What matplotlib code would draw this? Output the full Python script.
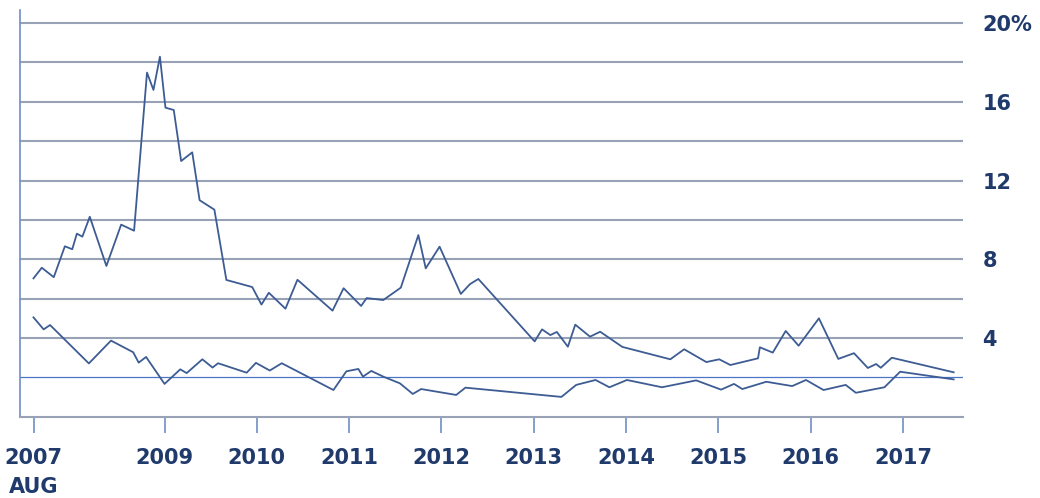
"""Two rate series, Aug 2007 - mid 2017, percent axis on the right."""

import matplotlib

matplotlib.use("Agg")

import matplotlib.pyplot as plt

# upper series (decimal year, percent)
upper_years = [
    2007.58, 2007.67, 2007.80, 2007.92, 2008.00, 2008.05, 2008.11, 2008.19,
    2008.37, 2008.53, 2008.67, 2008.81, 2008.88, 2008.95, 2009.01, 2009.10,
    2009.18, 2009.30, 2009.38, 2009.54, 2009.67, 2009.95, 2010.05, 2010.13,
    2010.31, 2010.44, 2010.82, 2010.94, 2011.13, 2011.19, 2011.37, 2011.56,
    2011.75, 2011.83, 2011.98, 2012.21, 2012.31, 2012.40, 2013.01, 2013.09,
    2013.18, 2013.25, 2013.37, 2013.45, 2013.61, 2013.72, 2013.96, 2014.48,
    2014.63, 2014.87, 2015.01, 2015.13, 2015.43, 2015.45, 2015.59, 2015.73,
    2015.87, 2016.09, 2016.30, 2016.47, 2016.62, 2016.71, 2016.76, 2016.88,
    2017.55,
]
upper_values = [
    7.03, 7.57, 7.09, 8.66, 8.51, 9.30, 9.15, 10.16,
    7.66, 9.76, 9.45, 17.48, 16.60, 18.29, 15.70, 15.58,
    12.99, 13.43, 11.00, 10.52, 6.95, 6.59, 5.70, 6.30,
    5.49, 6.96, 5.39, 6.53, 5.63, 6.03, 5.93, 6.56,
    9.23, 7.54, 8.64, 6.24, 6.74, 7.00, 3.83, 4.44,
    4.15, 4.31, 3.56, 4.68, 4.07, 4.32, 3.55, 2.92,
    3.43, 2.78, 2.92, 2.63, 2.97, 3.53, 3.26, 4.36,
    3.61, 5.00, 2.94, 3.23, 2.48, 2.68, 2.49, 3.00,
    2.26,
]

# lower series
lower_years = [
    2007.58, 2007.69, 2007.76, 2008.18, 2008.42, 2008.66, 2008.72, 2008.80,
    2009.00, 2009.17, 2009.24, 2009.41, 2009.52, 2009.58, 2009.89, 2009.99,
    2010.14, 2010.27, 2010.83, 2010.97, 2011.10, 2011.15, 2011.24, 2011.37,
    2011.55, 2011.69, 2011.78, 2012.16, 2012.26, 2013.30, 2013.46, 2013.67,
    2013.82, 2014.01, 2014.39, 2014.76, 2015.03, 2015.17, 2015.26, 2015.52,
    2015.80, 2015.95, 2016.14, 2016.38, 2016.49, 2016.80, 2016.97, 2017.55,
]
lower_values = [
    5.05, 4.44, 4.66, 2.71, 3.87, 3.28, 2.75, 3.04,
    1.67, 2.41, 2.22, 2.92, 2.50, 2.72, 2.24, 2.74,
    2.35, 2.72, 1.36, 2.31, 2.43, 2.04, 2.33, 2.04,
    1.70, 1.16, 1.41, 1.11, 1.48, 1.01, 1.62, 1.87,
    1.50, 1.87, 1.50, 1.85, 1.38, 1.67, 1.41, 1.78,
    1.56, 1.87, 1.36, 1.62, 1.22, 1.50, 2.29, 1.90,
]

x_ticks = [2007 + 7 / 12, 2009, 2010, 2011, 2012, 2013, 2014, 2015, 2016, 2017]
x_labels = ["2007\nAUG", "2009", "2010", "2011", "2012", "2013", "2014", "2015", "2016", "2017"]
y_ticks = [4, 8, 12, 16, 20]
y_labels = ["4", "8", "12", "16", "20%"]
grid_levels = [4, 6, 8, 10, 12, 14, 16, 18, 20]
highlight_level = 2

TEXT = "#1f3a6b"
LINE = "#3d5c94"
GRID = "#98a2b6"
BLUE = "#4d75c6"

fig = plt.figure(figsize=(10.4, 4.98), dpi=100)
ax = fig.add_axes([20 / 1040, 81.2 / 498, 943 / 1040, 406.8 / 498])

for level in grid_levels:
    ax.axhline(level, color=GRID, linewidth=1.5, zorder=1)
ax.axhline(highlight_level, color=BLUE, linewidth=0.9, zorder=1)

ax.plot(upper_years, upper_values, color=LINE, linewidth=1.3, zorder=3)
ax.plot(lower_years, lower_values, color=LINE, linewidth=1.3, zorder=3)

ax.set_xlim(2007.434, 2017.651)
ax.set_ylim(0, 20.66)

for side in ("top", "right"):
    ax.spines[side].set_visible(False)
ax.spines["left"].set_color("#6f8fc6")
ax.spines["left"].set_linewidth(1.2)
ax.spines["bottom"].set_color(GRID)
ax.spines["bottom"].set_linewidth(1.5)

ax.set_xticks(x_ticks)
ax.set_xticklabels(x_labels, fontsize=15, fontweight="bold", color=TEXT, linespacing=1.55)
ax.tick_params(axis="x", length=11.5, width=1.2, color="#6f8fc6", pad=11)

ax.yaxis.tick_right()
ax.set_yticks(y_ticks)
ax.set_yticklabels(y_labels, fontsize=15, fontweight="bold", color=TEXT)
ax.tick_params(axis="y", length=0, pad=14)
for label in ax.get_yticklabels():
    label.set_horizontalalignment("left")

fig.savefig("out.png", dpi=100)
plt.close(fig)
